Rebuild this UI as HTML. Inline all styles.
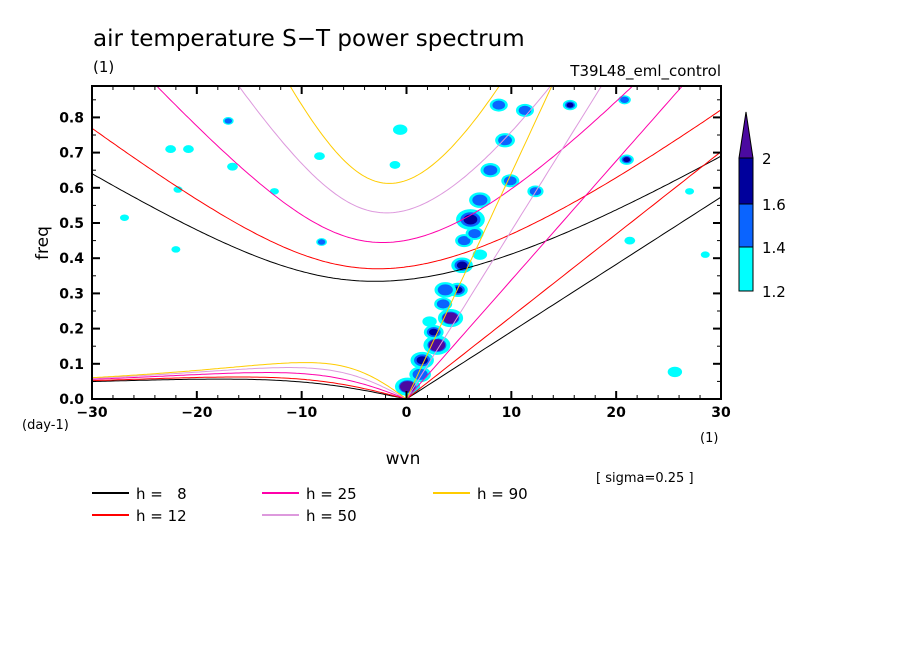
<!DOCTYPE html>
<html><head><meta charset="utf-8"><style>
body{margin:0;background:#fff;}
svg{display:block;font-family:"DejaVu Sans","Liberation Sans",sans-serif;}
</style></head><body>
<svg id="c" width="904" height="654" xmlns="http://www.w3.org/2000/svg">
<defs><clipPath id="pc"><rect x="92" y="86" width="629" height="313"/></clipPath></defs>
<text x="93" y="46" font-size="23">air temperature S−T power spectrum</text>
<text x="93" y="72" font-size="15">(1)</text>
<text x="721" y="76" font-size="15" text-anchor="end">T39L48_eml_control</text>
<g id="blobs" clip-path="url(#pc)"></g>
<g id="curves" clip-path="url(#pc)"></g>
<g id="axes"></g>
<text x="48" y="243" font-size="17" text-anchor="middle" transform="rotate(-90 48 243)">freq</text>
<text x="403" y="464" font-size="17" text-anchor="middle">wvn</text>
<text x="22" y="429" font-size="13">(day-1)</text>
<text x="700" y="442" font-size="13">(1)</text>
<text x="596" y="482" font-size="13">[ sigma=0.25 ]</text>
<g id="legend"></g>
<g id="cbar"></g>
</svg>
<script>
const NS="http://www.w3.org/2000/svg";
const depths=[8,12,25,50,90];
const depthColors=["#000000","#ff0000","#ff00aa","#dd99dd","#ffcc00"];
const xTicks=[-30,-20,-10,0,10,20,30];
const yTicks=[0,0.1,0.2,0.3,0.4,0.5,0.6,0.7,0.8];
const cbLevels=[1.2,1.4,1.6,2];
const levelColors=["#00ffff","#0a64ff","#00009c","#4b0aa0"];
const blobK=[0.1,2.9,4.2,4.9,3.7,5.3,6.1,7,8,9.9,9.4,11.3,8.8,12.3,7,2.2,1.3,15.6,21,20.8,25.6,-16.6,-0.6,-1.1,-8.3,-8.1,-17,-22.5,-20.8,-12.6,-21.8,-26.9,-22,27,28.5,21.3,1.5,5.5,3.5,6.5,2.6];
const blobF=[0.035,0.153,0.23,0.31,0.31,0.38,0.51,0.565,0.65,0.62,0.735,0.82,0.835,0.59,0.41,0.22,0.07,0.835,0.68,0.85,0.077,0.66,0.765,0.665,0.69,0.446,0.79,0.71,0.71,0.59,0.595,0.515,0.425,0.59,0.41,0.45,0.11,0.45,0.27,0.47,0.19];
const blobLevel=[4,4,4,3,2,3,3,2,2,2,2,2,2,2,1,1,2,3,3,2,1,1,1,1,1,2,2,1,1,1,1,1,1,1,1,1,3,2,2,2,3];
const blobSize=[1.4,1.5,1.4,1.1,1.2,1.2,1.6,1.2,1.1,1,1.1,1,1,0.9,0.8,0.8,1.2,0.8,0.8,0.7,0.8,0.6,0.8,0.6,0.6,0.6,0.6,0.6,0.6,0.5,0.5,0.5,0.5,0.5,0.5,0.6,1.3,1,1,1,1.1];

const X0=92,X1=721,Y0=399,Y1=86;
const xs=k=>X0+(k+30)/60*(X1-X0);
const ys=f=>Y0-f/0.1*35.2;
function el(tag,attrs,parent){const e=document.createElementNS(NS,tag);for(const a in attrs)e.setAttribute(a,attrs[a]);parent.appendChild(e);return e;}

const bg=document.getElementById('blobs');
const shrink=[1,0.7,0.48,0.32];
blobK.forEach((k,i)=>{
  const L=blobLevel[i];
  for(let l=0;l<L;l++){
    let s=blobSize[i]*shrink[l]*(L===4&&l===3?1.9:1);
    const e=el('ellipse',{cx:xs(k),cy:ys(blobF[i]),rx:9*s,ry:6.5*s,fill:levelColors[l]},bg);
    
    
  }
});

const g=9.81,beta=2.29e-11,a=6.371e6,cpd=86400/(2*Math.PI);
const cg=document.getElementById('curves');
depths.forEach((h,i)=>{
  const c=Math.sqrt(g*h);
  let pts=[];
  for(let s=0;s<=30;s+=0.5){pts.push([s,s/a*c*cpd]);}
  addLine(pts,i,'kelvin-h'+h);
  pts=[];
  for(let s=-30;s<=0;s+=0.25){const k=s/a;pts.push([s,-beta*k/(k*k+3*beta/c)*cpd]);}
  addLine(pts,i,'er-h'+h);
  pts=[];
  for(let s=-30;s<=30;s+=0.25){const k=s/a;let w=Math.sqrt(3*beta*c+k*k*c*c);
    for(let it=0;it<30;it++){w=Math.sqrt(c*c*(k*k+3*beta/c+beta*k/w));}
    pts.push([s,w*cpd]);}
  addLine(pts,i,'ig-h'+h);
});
function addLine(pts,i,name){
  const p=el('polyline',{points:pts.map(q=>xs(q[0]).toFixed(1)+','+ys(q[1]).toFixed(1)).join(' '),fill:'none',stroke:depthColors[i],'stroke-width':1},cg);
  
  
}

const ax=document.getElementById('axes');
el('rect',{x:X0,y:Y1,width:X1-X0,height:Y0-Y1,fill:'none',stroke:'#000','stroke-width':2},ax);
for(let k=-30;k<=30;k+=2){const maj=k%10===0;const L=maj?8:4;
  el('line',{x1:xs(k),x2:xs(k),y1:Y0,y2:Y0-L,stroke:'#000','stroke-width':maj?2:1},ax);
  el('line',{x1:xs(k),x2:xs(k),y1:Y1,y2:Y1+L,stroke:'#000','stroke-width':maj?2:1},ax);}
for(let j=0;j<=17;j++){const f=j*0.05;const maj=j%2===0;const L=maj?8:4;
  el('line',{x1:X0,x2:X0+L,y1:ys(f),y2:ys(f),stroke:'#000','stroke-width':maj?2:1},ax);
  el('line',{x1:X1,x2:X1-L,y1:ys(f),y2:ys(f),stroke:'#000','stroke-width':maj?2:1},ax);}
xTicks.forEach(k=>{const t=el('text',{x:xs(k),y:417,'font-size':14,'text-anchor':'middle','font-weight':'bold'},ax);t.textContent=(k<0?'−'+(-k):k);
  });
yTicks.forEach(f=>{const t=el('text',{x:84,y:ys(f)+5,'font-size':14,'text-anchor':'end','font-weight':'bold'},ax);t.textContent=f.toFixed(1);
  });

const lg=document.getElementById('legend');
const lx=[92,262,433],lyy=[493,515];
depths.forEach((h,i)=>{const col=Math.floor(i/2),row=i%2;const x=lx[col],y=lyy[row];
  const l=el('line',{x1:x,x2:x+37,y1:y,y2:y,stroke:depthColors[i],'stroke-width':2},lg);
  
  const t=el('text',{x:x+44,y:y+6,'font-size':15},lg);
  t.textContent='h = '+(h<10?'\u00a0\u00a0'+h:h);});

const cb=document.getElementById('cbar');
const cy=[291,247,204,158];
for(let i=0;i<3;i++){el('rect',{x:739,y:cy[i+1],width:14,height:cy[i]-cy[i+1],fill:levelColors[i],stroke:'#000','stroke-width':1},cb);}
el('polygon',{points:'739,158 753,158 746,112',fill:levelColors[3],stroke:'#000','stroke-width':1},cb);
cbLevels.forEach((v,i)=>{const t=el('text',{x:762,y:cy[i]+6,'font-size':15},cb);t.textContent=String(v);
  });
</script>
</body></html>
